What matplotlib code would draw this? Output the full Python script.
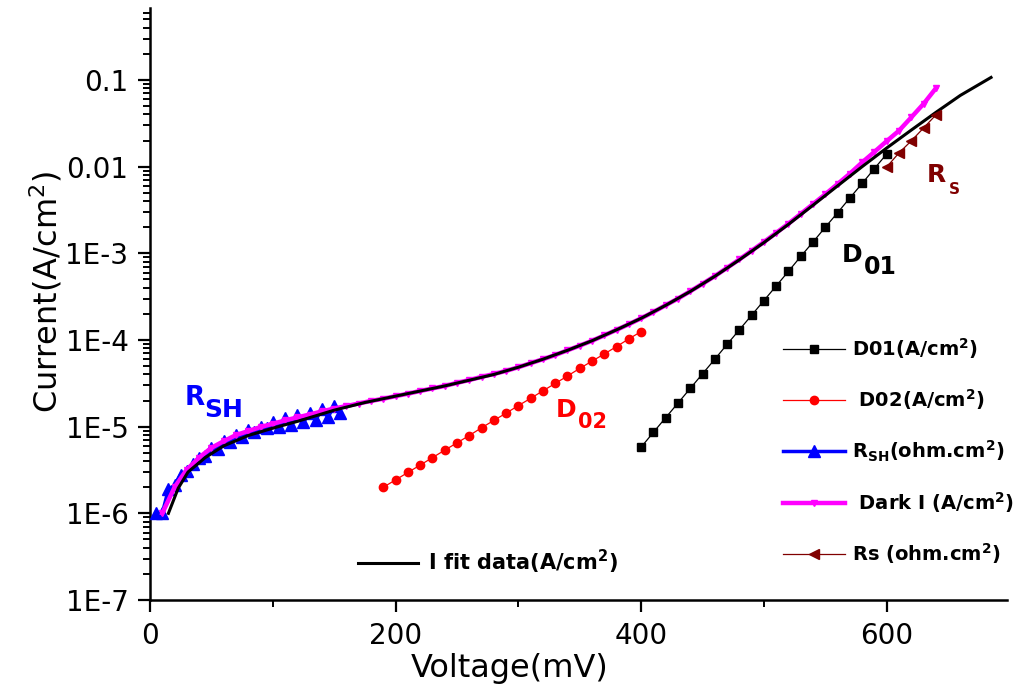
import matplotlib
matplotlib.use('Agg')
import matplotlib.pyplot as plt
from matplotlib.ticker import FixedLocator, LogLocator, NullFormatter, MultipleLocator

plt.rcParams['font.family'] = ['DejaVu Sans']
plt.rcParams['mathtext.fontset'] = 'dejavusans'

# voltages in mV, currents in A/cm2
d01_v = [400, 410, 420, 430, 440, 450, 460, 470, 480, 490, 500,
         510, 520, 530, 540, 550, 560, 570, 580, 590, 600]
d01_i = [5.8e-6, 8.6e-6, 1.27e-5, 1.87e-5, 2.76e-5, 4.07e-5, 6.0e-5, 8.9e-5, 1.31e-4, 1.93e-4, 2.85e-4,
         4.2e-4, 6.2e-4, 9.2e-4, 1.35e-3, 2.0e-3, 2.94e-3, 4.35e-3, 6.4e-3, 9.5e-3, 0.014]

d02_v = [190, 200, 210, 220, 230, 240, 250, 260, 270, 280, 290,
         300, 310, 320, 330, 340, 350, 360, 370, 380, 390, 400]
d02_i = [2.0e-6, 2.43e-6, 2.96e-6, 3.6e-6, 4.39e-6, 5.35e-6, 6.5e-6, 7.9e-6, 9.7e-6, 1.18e-5, 1.43e-5,
         1.75e-5, 2.12e-5, 2.59e-5, 3.15e-5, 3.84e-5, 4.7e-5, 5.7e-5, 6.9e-5, 8.4e-5, 1.03e-4, 1.25e-4]

rsh_v = [5, 10, 15, 20, 25, 30, 35, 40, 45, 50, 55, 60, 65, 70, 75, 80,
         85, 90, 95, 100, 105, 110, 115, 120, 125, 130, 135, 140, 145, 150, 155]
rsh_i = [1.0e-6, 1.0e-6, 1.9e-6, 2.1e-6, 2.8e-6, 3.1e-6, 3.7e-6, 4.4e-6, 4.6e-6, 5.6e-6, 5.5e-6,
         6.9e-6, 6.6e-6, 8.0e-6, 7.6e-6, 9.1e-6, 8.6e-6, 1.0e-5, 9.6e-6, 1.13e-5, 9.9e-6,
         1.26e-5, 1.04e-5, 1.36e-5, 1.13e-5, 1.45e-5, 1.19e-5, 1.6e-5, 1.29e-5, 1.73e-5, 1.44e-5]

dark_v = [10, 20, 30, 40, 50, 60, 70, 80, 90, 100, 110, 120, 130, 140, 150, 160,
          170, 180, 190, 200, 210, 220, 230, 240, 250, 260, 270, 280, 290, 300, 310, 320,
          330, 340, 350, 360, 370, 380, 390, 400, 410, 420, 430, 440, 450, 460, 470, 480,
          490, 500, 510, 520, 530, 540, 550, 560, 570, 580, 590, 600, 610, 620, 630, 640]
dark_i = [1.0e-6, 2.0e-6, 3.2e-6, 4.4e-6, 5.7e-6, 6.8e-6, 8.0e-6, 8.9e-6, 9.9e-6, 1.08e-5,
          1.18e-5, 1.28e-5, 1.38e-5, 1.5e-5, 1.62e-5, 1.73e-5, 1.85e-5, 1.98e-5, 2.1e-5, 2.25e-5,
          2.4e-5, 2.58e-5, 2.76e-5, 2.95e-5, 3.2e-5, 3.45e-5, 3.75e-5, 4.05e-5, 4.4e-5, 4.85e-5,
          5.4e-5, 6.0e-5, 6.7e-5, 7.6e-5, 8.6e-5, 9.8e-5, 1.13e-4, 1.31e-4, 1.52e-4, 1.78e-4,
          2.1e-4, 2.52e-4, 3.0e-4, 3.65e-4, 4.45e-4, 5.45e-4, 6.8e-4, 8.5e-4, 1.07e-3, 1.35e-3,
          1.72e-3, 2.2e-3, 2.85e-3, 3.7e-3, 4.8e-3, 6.3e-3, 8.3e-3, 0.0112, 0.0148, 0.0197,
          0.026, 0.037, 0.053, 0.08]

rs_v = [600, 610, 620, 630, 640]
rs_i = [0.0099, 0.0144, 0.0198, 0.0279, 0.0394]

fit_v = [15, 23, 31, 45, 60, 80, 100, 120, 150, 175, 200, 240, 280, 300, 320, 340, 360, 380,
         400, 420, 440, 460, 480, 500, 520, 540, 560, 580, 600, 620, 640, 660, 685]
fit_i = [1.0e-6, 1.95e-6, 3.0e-6, 4.4e-6, 6.0e-6, 7.9e-6, 9.6e-6, 1.15e-5, 1.55e-5, 1.9e-5,
         2.25e-5, 2.95e-5, 4.0e-5, 4.85e-5, 6.0e-5, 7.6e-5, 9.8e-5, 1.31e-4,
         1.78e-4, 2.51e-4, 3.63e-4, 5.43e-4, 8.41e-4, 1.33e-3, 2.16e-3, 3.59e-3, 6.0e-3, 0.01,
         0.0164, 0.0264, 0.0422, 0.0664, 0.107]

y_ticks = [1e-7, 1e-6, 1e-5, 1e-4, 1e-3, 1e-2, 1e-1]
y_tick_labels = ['1E-7', '1E-6', '1E-5', '1E-4', '1E-3', '0.01', '0.1']
x_ticks = [0, 200, 400, 600]

fig = plt.figure(figsize=(10.2, 6.91), dpi=100)
ax = fig.add_axes([150 / 1020, 91 / 691, 857 / 1020, 592 / 691])

h_rsh, = ax.plot(rsh_v, rsh_i, color='#0000ff', lw=2.5, marker='^', ms=8, zorder=3)
h_dark, = ax.plot(dark_v, dark_i, color='#ff00ff', lw=3.2, marker='v', ms=4.5, zorder=4)
h_fit, = ax.plot(fit_v, fit_i, color='black', lw=2.2, zorder=5)
h_d02, = ax.plot(d02_v, d02_i, color='#ff0000', lw=0.9, marker='o', ms=6, zorder=3)
h_d01, = ax.plot(d01_v, d01_i, color='black', lw=0.9, marker='s', ms=5.5, zorder=3)
h_rs, = ax.plot(rs_v, rs_i, color='#800000', lw=0.9, marker='<', ms=6.5, zorder=6)

ax.set_yscale('log')
ax.set_ylim(1e-7, 0.677)
ax.set_xlim(0, 698)
ax.yaxis.set_major_locator(FixedLocator(y_ticks))
ax.set_yticklabels(y_tick_labels)
ax.yaxis.set_minor_locator(LogLocator(base=10, subs=range(2, 10), numticks=20))
ax.yaxis.set_minor_formatter(NullFormatter())
ax.set_xticks(x_ticks)
ax.xaxis.set_minor_locator(MultipleLocator(100))

for side in ['top', 'right']:
    ax.spines[side].set_visible(False)
for side in ['left', 'bottom']:
    ax.spines[side].set_linewidth(1.8)

ax.tick_params(which='major', direction='out', length=8.5, width=1.6, labelsize=20, pad=7)
ax.tick_params(which='minor', direction='out', length=5, width=1.4)

ax.set_xlabel('Voltage(mV)', fontsize=23)
ax.xaxis.set_label_coords(0.42, -0.09)
ax.set_ylabel('Current(A/cm$^2$)', fontsize=23)
ax.yaxis.set_label_coords(-0.1, 0.52)

labels = ['D01(A/cm$^{\\mathbf{2}}$)', ' D02(A/cm$^{\\mathbf{2}}$)',
          'R$_{\\mathbf{SH}}$(ohm.cm$^{\\mathbf{2}}$)', ' Dark I (A/cm$^{\\mathbf{2}}$)',
          'Rs (ohm.cm$^{\\mathbf{2}}$)']
leg1 = ax.legend([h_d01, h_d02, h_rsh, h_dark, h_rs], labels, loc='upper left',
                 bbox_to_anchor=(783 / 1020, 1 - 336 / 691), bbox_transform=fig.transFigure,
                 frameon=False, prop={'weight': 'bold', 'size': 14}, handlelength=3.2,
                 handletextpad=0.35, labelspacing=1.35, borderpad=0, borderaxespad=0)
ax.add_artist(leg1)
ax.legend([h_fit], ['I fit data(A/cm$^{\\mathbf{2}}$)'], loc='upper left',
          bbox_to_anchor=(358 / 1020, 1 - 548 / 691), bbox_transform=fig.transFigure,
          frameon=False, prop={'weight': 'bold', 'size': 15}, handlelength=2.9,
          handletextpad=0.45, borderpad=0, borderaxespad=0)

# curve annotations
def lab(x, y, s, color, size):
    fig.text(x / 1020, 1 - y / 691, s, color=color, fontsize=size, fontweight='bold',
             ha='left', va='baseline')

lab(185, 405, 'R', '#0000ff', 19)
lab(204, 417, 'SH', '#0000ff', 18)
lab(556, 417, 'D', '#ff0000', 18)
lab(578, 428, '02', '#ff0000', 15)
lab(842, 262, 'D', 'black', 18)
lab(864, 274, '01', 'black', 17)
lab(927, 182, 'R', '#800000', 18)
lab(949, 194, 'S', '#800000', 11)

fig.savefig('out.png', dpi=100)
